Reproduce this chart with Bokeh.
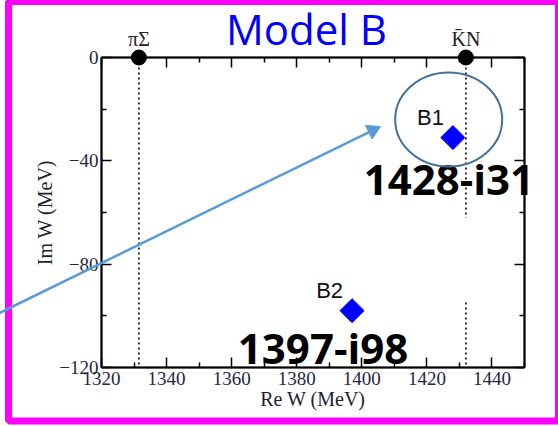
import numpy as np
from bokeh.plotting import figure
from bokeh.models import LinearAxis, FixedTicker, Range1d
from bokeh.core.properties import value
from bokeh.embed import file_html
from bokeh.resources import INLINE

# Pole positions W = Re - i|Im| (MeV)
pole_names = ["B1", "B2"]
pole_re = [1428, 1397]
pole_im = [-31, -98]

# Two-body thresholds (MeV)
threshold_names = ["πΣ", "K\u0304N"]
threshold_re = [1331.5, 1432.0]

# Axis ticks
x_ticks = [1320, 1340, 1360, 1380, 1400, 1420, 1440]
x_minor = [1330, 1350, 1370, 1390, 1410, 1430, 1450]
y_ticks = [0, -40, -80, -120]
y_minor = [-20, -60, -100]

# Page and frame geometry (px)
W, H = 558, 426
LEFT, RIGHT, TOP, BOTTOM = 101, 34, 57, 59
X0, X1 = 1320, 1450
Y0, Y1 = -120, 0
PX_X = (X1 - X0) / (W - LEFT - RIGHT)   # data units per pixel
PX_Y = (Y1 - Y0) / (H - TOP - BOTTOM)


def data_x(px):
    return X0 + (px - LEFT) * PX_X


def data_y(py):
    return Y1 - (py - TOP) * PX_Y


SERIF = "Liberation Serif"
TICK_COLOR = "#262640"

p = figure(width=W, height=H, x_range=Range1d(X0, X1), y_range=Range1d(Y0, Y1),
           output_backend="svg", toolbar_location=None,
           min_border_left=LEFT, min_border_right=RIGHT,
           min_border_top=TOP, min_border_bottom=BOTTOM)
p.xgrid.visible = False
p.ygrid.visible = False
p.background_fill_color = "white"
p.border_fill_color = "white"
p.outline_line_color = "black"
p.outline_line_width = 1.5

p.add_layout(LinearAxis(), "above")
p.add_layout(LinearAxis(), "right")

for ax in p.xaxis:
    ax.ticker = FixedTicker(ticks=x_ticks, minor_ticks=x_minor)
for ax in p.yaxis:
    ax.ticker = FixedTicker(ticks=y_ticks, minor_ticks=y_minor)

for ax in p.axis:
    ax.axis_line_width = 2
    ax.axis_line_color = "black"
    ax.major_tick_in = 10
    ax.major_tick_out = 0
    ax.minor_tick_in = 5
    ax.minor_tick_out = 0
    ax.major_tick_line_width = 1.5
    ax.minor_tick_line_width = 1.5
    ax.major_label_text_font = SERIF
    ax.major_label_text_font_size = "19px"
    ax.major_label_text_color = TICK_COLOR
    ax.axis_label_text_font = SERIF
    ax.axis_label_text_font_size = "20px"
    ax.axis_label_text_font_style = "normal"
    ax.axis_label_text_color = "#1e1e30"

p.above[0].major_label_overrides = {t: "" for t in x_ticks}
p.right[0].major_label_overrides = {t: "" for t in y_ticks}
p.left[0].major_label_overrides = {t: str(t).replace("-", "\u2212") for t in y_ticks}

p.below[0].axis_label = "Re W (MeV)"
p.below[0].major_label_standoff = 4
p.below[0].axis_label_standoff = 0
p.left[0].axis_label = "Im W (MeV)"
p.left[0].major_label_standoff = 3
p.left[0].axis_label_standoff = 0

# Threshold lines with the threshold points on the real axis
p.segment(x0=threshold_re, y0=[0, 0], x1=threshold_re, y1=[Y0, Y0],
          line_color="black", line_width=1.6, line_dash="2 3")
# blank panel over the lower part of the K̄N line
p.quad(left=[1428], right=[1437], top=[-62], bottom=[-94],
       fill_color="white", line_color=None)
p.scatter(threshold_re, [0, 0], size=15, color="black", level="overlay")
p.text(x=threshold_re, y=[19 * PX_Y] * 2, text=threshold_names,
       text_align="center", text_baseline="alphabetic",
       text_font=value(SERIF), text_font_size=value("20px"),
       text_color="#222", level="overlay")

# Poles
p.scatter(pole_re, pole_im, marker="square", angle=np.pi / 4, size=17,
          color="#0000FF")
p.text(x=[r - 9 * PX_X for r in pole_re], y=[i + 20 * PX_Y for i in pole_im],
       text=pole_names, text_align="right", text_baseline="alphabetic",
       text_font=value("Liberation Sans"), text_font_size=value("22px"),
       text_color="#111", level="overlay")

# Pole values written as Re-iIm
value_dx = [-4, -29]
value_dy = [41, 37]
p.text(x=[r + dx * PX_X for r, dx in zip(pole_re, value_dx)],
       y=[i - dy * PX_Y for i, dy in zip(pole_im, value_dy)],
       text=[f"{r}-i{abs(i)}" for r, i in zip(pole_re, pole_im)],
       text_align="center", text_baseline="alphabetic",
       text_font=value("Open Sans"), text_font_style="bold",
       text_font_size=value("42px"), text_color="black", level="overlay")

# Highlight ring around B1
p.ellipse(x=[1426.7], y=[-24.0], width=107, height=94,
          width_units="screen", height_units="screen",
          fill_color=None, line_color="#41719C", line_width=2, level="overlay")

# Title
p.text(x=[data_x(306)], y=[data_y(27.5)], text=["Model B"],
       text_align="center", text_baseline="alphabetic",
       text_font=value("Open Sans"), text_font_size=value("42px"),
       text_color="#0000FF", level="overlay")

# Magenta frame around the page
p.quad(left=[data_x(8)], right=[data_x(558)], top=[data_y(1)],
       bottom=[data_y(420.5)], fill_color=None, line_color="#FF00FF",
       line_width=7, level="overlay")

# Pointer arrow: shaft plus triangular head
tip = (380, 126)
start = (-2, 313)
dx, dy = tip[0] - start[0], tip[1] - start[1]
length = np.hypot(dx, dy)
ux, uy = dx / length, dy / length
head = 15
back = head / np.sqrt(3)
hc = (tip[0] - back * ux, tip[1] - back * uy)
p.segment(x0=[data_x(start[0])], y0=[data_y(start[1])],
          x1=[data_x(hc[0])], y1=[data_y(hc[1])],
          line_color="#5B9BD5", line_width=2.5, level="overlay")
p.scatter(x=[data_x(hc[0])], y=[data_y(hc[1])], marker="triangle", size=head,
          angle=np.arctan2(-uy, ux) - np.pi / 2, color="#5B9BD5",
          level="overlay")

open("out.html", "w").write(file_html(p, INLINE))
